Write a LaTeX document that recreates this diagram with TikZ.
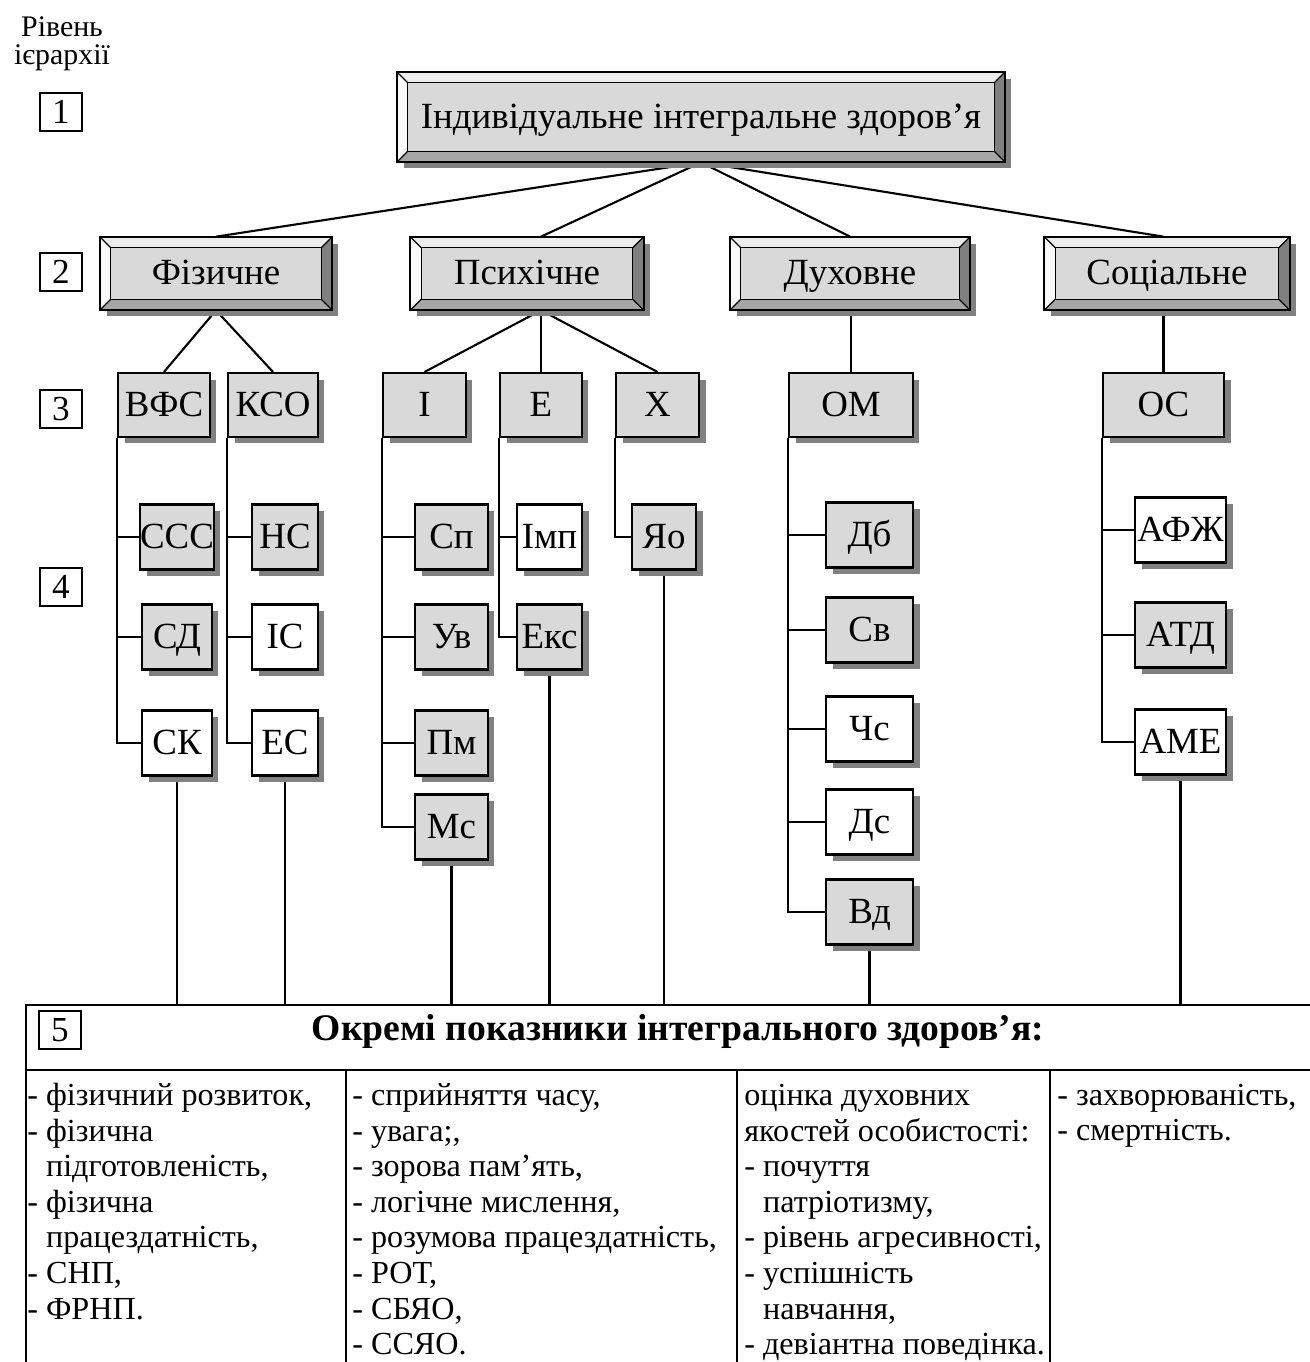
\documentclass[tikz,border=0pt]{standalone}
\usepackage{fontspec}
\setmainfont{Liberation Serif}
\usetikzlibrary{shadows,backgrounds}

\newcommand{\lblfont}{\fontsize{21}{24}\selectfont}
\newcommand{\tblfont}{\fontsize{18.3}{20.3}\selectfont}
\newcommand{\lvlfont}{\fontsize{20}{22}\selectfont}

% raised frame round a node (bevel strips, inner face, corner cuts)
\newcommand{\bevel}[1]{%
  \fill[gray!15] (#1.north west) -- (#1.north east) -- ([shift={(-11,11)}]#1.north east) -- ([shift={(11,11)}]#1.north west) -- cycle;
  \fill[gray!5] (#1.north west) -- ([shift={(11,11)}]#1.north west) -- ([shift={(11,-11)}]#1.south west) -- (#1.south west) -- cycle;
  \fill[gray!70] (#1.south west) -- ([shift={(11,-11)}]#1.south west) -- ([shift={(-11,-11)}]#1.south east) -- (#1.south east) -- cycle;
  \fill[gray] (#1.south east) -- ([shift={(-11,-11)}]#1.south east) -- ([shift={(-11,11)}]#1.north east) -- (#1.north east) -- cycle;
  \draw[line width=0.7pt] ([shift={(11,11)}]#1.north west) rectangle ([shift={(-11,-11)}]#1.south east);
  \draw[line width=0.7pt] (#1.north west) -- ++(11,11) (#1.north east) -- ++(-11,11)
    (#1.south west) -- ++(11,-11) (#1.south east) -- ++(-11,-11);
  \draw[line width=1.3pt] (#1.north west) rectangle (#1.south east);
}

\tikzset{
  shade/.style={drop shadow={fill=gray, opacity=1, shadow xshift=0.13cm, shadow yshift=-0.13cm}},
  raised/.style={fill=gray!30, inner sep=0pt, font=\lblfont, text height=18pt, text depth=5pt, shade},
  group/.style={draw, line width=1.2pt, fill=gray!30, shade, minimum height=1.28cm, inner sep=0pt,
    font=\lblfont, text height=18pt, text depth=5pt},
  leaf/.style={group, minimum height=1.3cm},
  leafw/.style={leaf, fill=white},
  lvlnum/.style={draw, line width=0.8pt, minimum width=0.84cm, minimum height=0.76cm, inner sep=0pt,
    font=\lvlfont, text height=14pt, text depth=1pt},
  link/.style={line width=1.2pt},
  tbltxt/.style={anchor=north west, inner sep=0pt, align=left, font=\tblfont},
}

\begin{document}
\begin{tikzpicture}[x=0.02cm, y=-0.02cm]
  \useasboundingbox (0,0) rectangle (1310,1362);

  % hierarchy levels
  \node[align=center, font=\fontsize{17}{16.2}\selectfont] (lvl) at (62,44) {Рівень\\ієрархії};
  \node[lvlnum] (n1) at (61,112) {1};
  \node[lvlnum] (n2) at (61,272) {2};
  \node[lvlnum] (n3) at (61,409) {3};
  \node[lvlnum] (n4) at (61,587) {4};

  % level 1 and 2
  \node[raised, minimum width=12.16cm, minimum height=1.8cm] (top) at (701,117) {Індивідуальне інтегральне здоров’я};
  \bevel{top}
  \node[raised, minimum width=4.64cm, minimum height=1.46cm] (fiz) at (216,273.5) {Фізичне};
  \bevel{fiz}
  \node[raised, minimum width=4.66cm, minimum height=1.46cm] (psy) at (527,273.5) {Психічне};
  \bevel{psy}
  \node[raised, minimum width=4.8cm, minimum height=1.46cm] (duh) at (850,273.5) {Духовне};
  \bevel{duh}
  \node[raised, minimum width=4.9cm, minimum height=1.46cm] (soc) at (1167,273.5) {Соціальне};
  \bevel{soc}

  % level 3
  \node[group, minimum width=1.84cm] (vfs) at (164,405) {ВФС};
  \node[group, minimum width=1.8cm] (kso) at (273,405) {КСО};
  \node[group, minimum width=1.66cm] (ii) at (424.5,405) {І};
  \node[group, minimum width=1.64cm] (ee) at (541,405) {Е};
  \node[group, minimum width=1.66cm] (kh) at (657.5,405) {Х};
  \node[group, minimum width=2.48cm] (om) at (851,405) {ОМ};
  \node[group, minimum width=2.42cm] (os) at (1163.5,405) {ОС};

  % level 4
  \node[leaf, minimum width=1.4cm] (ccc) at (177,537) {ССС};
  \node[leaf, minimum width=1.4cm] (sd) at (177,637) {СД};
  \node[leafw, minimum width=1.4cm] (sk) at (177,743) {СК};
  \node[leaf, minimum width=1.32cm] (ns) at (285,537) {НС};
  \node[leafw, minimum width=1.32cm] (is) at (285,637) {ІС};
  \node[leafw, minimum width=1.32cm] (es) at (285,743) {ЕС};
  \node[leaf, minimum width=1.46cm] (sp) at (451.5,537) {Сп};
  \node[leaf, minimum width=1.46cm] (uv) at (451.5,637) {Ув};
  \node[leaf, minimum width=1.46cm] (pm) at (451.5,743) {Пм};
  \node[leaf, minimum width=1.46cm] (ms) at (451.5,827) {Мс};
  \node[leafw, minimum width=1.3cm] (imp) at (549.5,537) {Імп};
  \node[leaf, minimum width=1.3cm] (eks) at (549.5,637) {Екс};
  \node[leaf, minimum width=1.28cm] (yao) at (664,537) {Яо};
  \node[leaf, minimum width=1.74cm] (db) at (869.5,535) {Дб};
  \node[leaf, minimum width=1.74cm] (sv) at (869.5,630) {Св};
  \node[leafw, minimum width=1.74cm] (chs) at (869.5,729) {Чс};
  \node[leafw, minimum width=1.74cm] (ds) at (869.5,822) {Дс};
  \node[leaf, minimum width=1.74cm] (vd) at (869.5,912) {Вд};
  \node[leafw, minimum width=1.82cm] (afzh) at (1180.5,530) {АФЖ};
  \node[leaf, minimum width=1.82cm] (atd) at (1180.5,635) {АТД};
  \node[leafw, minimum width=1.82cm] (ame) at (1180.5,742) {АМЕ};

  % level 5 table
  \coordinate (tbl) at (26,1005);
  \draw[link] (1310,1005) -- (tbl) -- (26,1362);
  \draw[link] (26,1070) -- (1310,1070);
  \foreach \x in {346,737,1050}
    \draw[link] (\x,1070) -- (\x,1362);
  \node[lvlnum] (n5) at (60,1030) {5};
  \node[font=\fontsize{21.4}{24}\selectfont\bfseries] (head) at (678,1031) {Окремі показники інтегрального здоров’я:};
  \node[tbltxt] (cfiz) at (27,1080) {\strut- фізичний розвиток,\\- фізична\\\hphantom{- }підготовленість,\\- фізична\\\hphantom{- }працездатність,\\- СНП,\\- ФРНП.};
  \node[tbltxt] (cpsy) at (352,1080) {\strut- сприйняття часу,\\- увага;,\\- зорова пам’ять,\\- логічне мислення,\\- розумова працездатність,\\- РОТ,\\- СБЯО,\\- ССЯО.};
  \node[tbltxt] (cduh) at (744,1080) {\strut оцінка духовних\\якостей особистості:\\- почуття\\\hphantom{- }патріотизму,\\- рівень агресивності,\\- успішність\\\hphantom{- }навчання,\\- девіантна поведінка.};
  \node[tbltxt] (csoc) at (1057,1080) {\strut- захворюваність,\\- смертність.};

  % connectors
  \begin{scope}[on background layer]
    \draw[link] (top.south) -- (fiz.north);
    \draw[link] (top.south) -- (ee.north |- psy.north);
    \draw[link] (top.south) -- (duh.north);
    \draw[link] (top.south) -- (os.north |- soc.north);
    \draw[link] (fiz.south) -- (vfs.north);
    \draw[link] (fiz.south) -- (kso.north);
    \foreach \n in {ii,ee,kh}
      \draw[link] (ee.north |- psy.south) -- (\n.north);
    \draw[link] (om.north |- duh.south) -- (om.north);
    \draw[link] (os.north |- soc.south) -- (os.north);
    % branches
    \draw[link] (vfs.south west) |- (sk.west);
    \foreach \n in {ccc,sd}
      \draw[link] (vfs.south west |- \n.west) -- (\n.west);
    \draw[link] (kso.south west) |- (es.west);
    \foreach \n in {ns,is}
      \draw[link] (kso.south west |- \n.west) -- (\n.west);
    \draw[link] (ii.south west) |- (ms.west);
    \foreach \n in {sp,uv,pm}
      \draw[link] (ii.south west |- \n.west) -- (\n.west);
    \draw[link] (ee.south west) |- (eks.west);
    \draw[link] (ee.south west |- imp.west) -- (imp.west);
    \draw[link] (kh.south west) |- (yao.west);
    \draw[link] (om.south west) |- (vd.west);
    \foreach \n in {db,sv,chs,ds}
      \draw[link] (om.south west |- \n.west) -- (\n.west);
    \draw[link] (os.south west) |- (ame.west);
    \foreach \n in {afzh,atd}
      \draw[link] (os.south west |- \n.west) -- (\n.west);
    % down to the table
    \foreach \n in {sk,es,ms,eks,yao,vd,ame}
      \draw[link] (\n.south) -- (\n.south |- tbl);
  \end{scope}
\end{tikzpicture}
\end{document}
